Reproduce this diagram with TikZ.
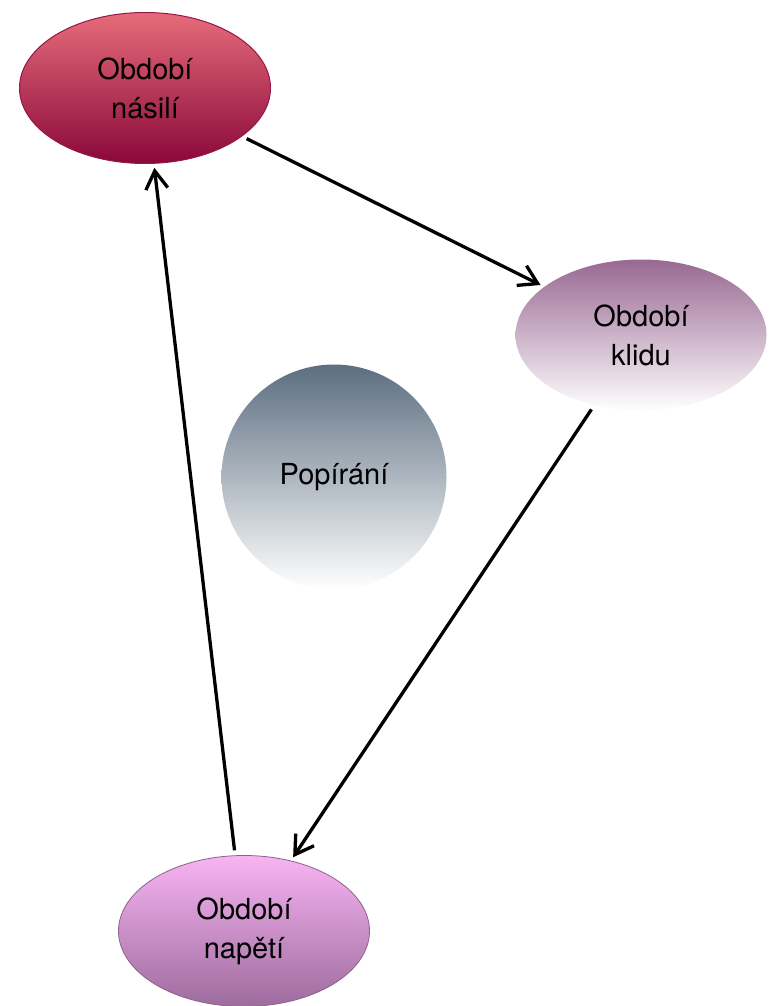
\documentclass[tikz,border=0pt]{standalone}
\usepackage{fontspec}
\setmainfont{TeX Gyre Heros}
\usetikzlibrary{arrows.meta, shapes.geometric}

\definecolor{nasilitop}{RGB}{230,108,122}
\definecolor{nasilibot}{RGB}{138,8,58}
\definecolor{nasiliedge}{RGB}{150,22,72}
\definecolor{klidtop}{RGB}{152,104,146}
\definecolor{popirtop}{RGB}{92,110,128}
\definecolor{napettop}{RGB}{247,180,242}
\definecolor{napetbot}{RGB}{158,108,158}
\definecolor{napetedge}{RGB}{140,98,140}

\tikzset{
  phase/.style={ellipse, minimum width=251pt, minimum height=151pt, inner sep=0pt,
    align=center, font=\fontsize{29}{39}\selectfont},
  cycarrow/.style={line width=3.3pt, -{Straight Barb[length=18pt,width=22pt,line width=3.3pt]},
    shorten <=5pt, shorten >=4pt}
}

\begin{document}
\begin{tikzpicture}[x=1pt, y=-1pt]
  \useasboundingbox (0,0) rectangle (776,1006);

  \coordinate (c0) at (145,88);   % violence, top left
  \coordinate (c1) at (641,335);  % calm, right
  \coordinate (c2) at (244,931);  % tension, bottom
  \coordinate (c3) at (334,477);  % denial, middle

  % the three phases
  \node[phase, draw=nasiliedge, line width=1pt, top color=nasilitop, bottom color=nasilibot]
    (nasili) at (c0) {Období\\násilí};
  \node[phase, top color=klidtop, bottom color=white] (klid) at (c1) {Období\\klidu};
  \node[phase, draw=napetedge, line width=0.8pt, top color=napettop, bottom color=napetbot]
    (napeti) at (c2) {Období\\napětí};
  % denial circle
  \node[circle, minimum size=225pt, inner sep=0pt, top color=popirtop, bottom color=white,
    font=\fontsize{29}{39}\selectfont] (popirani) at (c3) {Popírání};

  % cycle
  \draw[cycarrow] (nasili) -- (klid);
  \draw[cycarrow] (klid) -- (napeti);
  \draw[cycarrow] (napeti) -- (nasili);
\end{tikzpicture}
\end{document}
